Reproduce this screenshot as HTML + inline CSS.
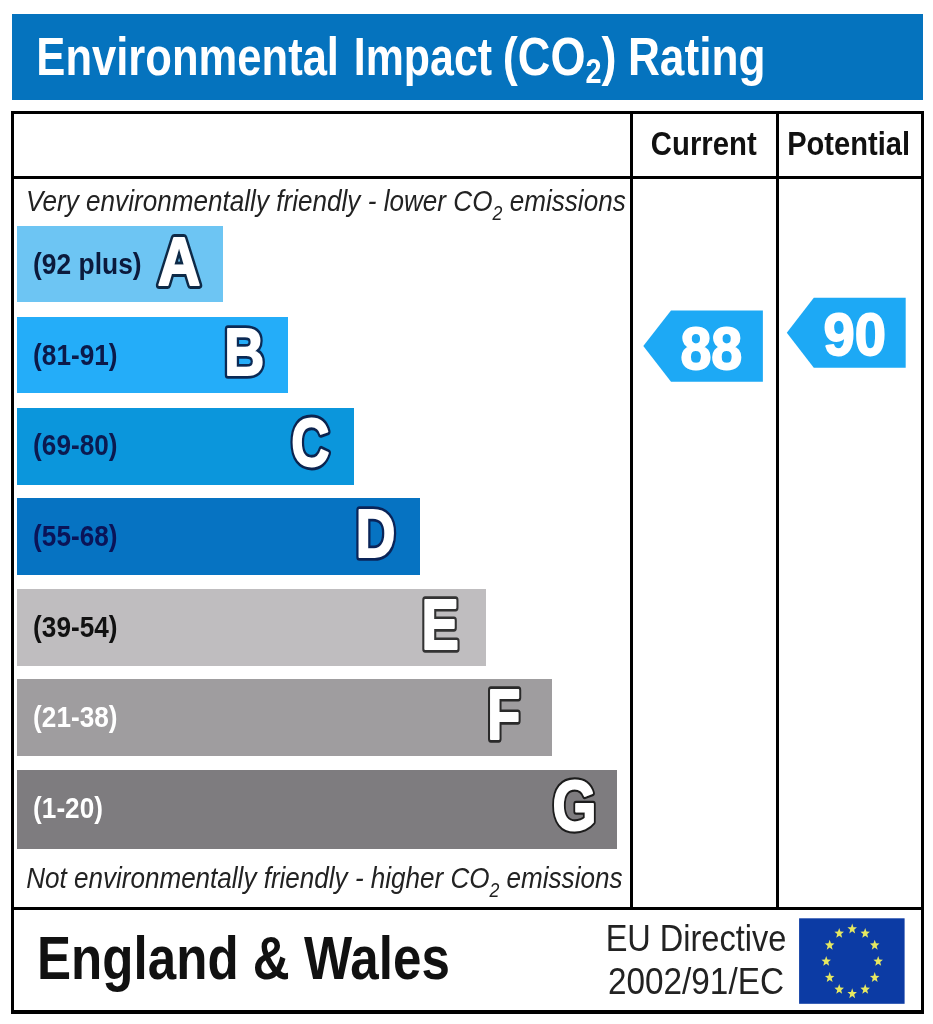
<!DOCTYPE html>
<html><head><meta charset="utf-8"><title>Environmental Impact (CO2) Rating</title>
<style>
html,body{margin:0;padding:0;background:#fff;}
body{width:933px;height:1024px;position:relative;overflow:hidden;font-family:'Liberation Sans', sans-serif;}
.t{margin:0;padding:0}
</style></head><body style="filter:blur(0.6px)">
<div style="position:absolute;left:11.90px;top:13.50px;width:911.10px;height:86.40px;background:#0573be"></div>
<div style="position:absolute;left:10.70px;top:110.80px;width:913.10px;height:3.70px;background:#000"></div>
<div style="position:absolute;left:10.70px;top:1009.60px;width:913.10px;height:4.00px;background:#000"></div>
<div style="position:absolute;left:10.70px;top:110.80px;width:3.00px;height:902.80px;background:#000"></div>
<div style="position:absolute;left:920.80px;top:110.80px;width:3.00px;height:902.80px;background:#000"></div>
<div style="position:absolute;left:629.90px;top:112.00px;width:3.10px;height:797.00px;background:#000"></div>
<div style="position:absolute;left:775.60px;top:112.00px;width:3.10px;height:797.00px;background:#000"></div>
<div style="position:absolute;left:11.00px;top:175.60px;width:912.00px;height:3.60px;background:#000"></div>
<div style="position:absolute;left:11.00px;top:906.80px;width:912.00px;height:3.70px;background:#000"></div>
<div style="position:absolute;left:16.80px;top:225.90px;width:206.30px;height:75.90px;background:#6dc5f3"></div>
<div style="position:absolute;left:16.80px;top:316.60px;width:271.60px;height:76.10px;background:#24adf9"></div>
<div style="position:absolute;left:16.80px;top:407.70px;width:336.80px;height:77.10px;background:#0b96dc"></div>
<div style="position:absolute;left:16.80px;top:498.20px;width:403.40px;height:77.00px;background:#0673c2"></div>
<div style="position:absolute;left:16.80px;top:589.30px;width:468.90px;height:76.70px;background:#bfbdbf"></div>
<div style="position:absolute;left:16.80px;top:679.30px;width:534.80px;height:77.20px;background:#9f9d9f"></div>
<div style="position:absolute;left:16.80px;top:769.80px;width:599.80px;height:78.80px;background:#7e7c7f"></div>
<svg style="position:absolute;left:0;top:0" width="933" height="1024" viewBox="0 0 933 1024"><polygon points="643.3,346 671,310.5 762.9,310.5 762.9,381.7 671,381.7" fill="#1da9f5"/><polygon points="786.8,332.7 813.8,297.8 905.7,297.8 905.7,367.8 813.8,367.8" fill="#1da9f5"/><rect x="799.1" y="918.3" width="105.5" height="85.5" fill="#0c3ba4"/><polygon points="852.20,923.55 853.43,927.18 856.96,927.35 854.20,929.76 855.14,933.50 852.20,931.36 849.26,933.50 850.20,929.76 847.44,927.35 850.97,927.18" fill="#e6e861"/><polygon points="865.20,927.88 866.43,931.52 869.96,931.68 867.20,934.10 868.14,937.83 865.20,935.69 862.26,937.83 863.20,934.10 860.44,931.68 863.97,931.52" fill="#e6e861"/><polygon points="874.72,939.73 875.95,943.36 879.47,943.53 876.71,945.94 877.66,949.67 874.72,947.53 871.78,949.67 872.72,945.94 869.96,943.53 873.48,943.36" fill="#e6e861"/><polygon points="878.20,955.90 879.43,959.53 882.96,959.70 880.20,962.11 881.14,965.85 878.20,963.71 875.26,965.85 876.20,962.11 873.44,959.70 876.97,959.53" fill="#e6e861"/><polygon points="874.72,972.07 875.95,975.71 879.47,975.88 876.71,978.29 877.66,982.02 874.72,979.88 871.78,982.02 872.72,978.29 869.96,975.88 873.48,975.71" fill="#e6e861"/><polygon points="865.20,983.92 866.43,987.55 869.96,987.72 867.20,990.13 868.14,993.87 865.20,991.73 862.26,993.87 863.20,990.13 860.44,987.72 863.97,987.55" fill="#e6e861"/><polygon points="852.20,988.25 853.43,991.88 856.96,992.05 854.20,994.46 855.14,998.20 852.20,996.06 849.26,998.20 850.20,994.46 847.44,992.05 850.97,991.88" fill="#e6e861"/><polygon points="839.20,983.92 840.43,987.55 843.96,987.72 841.20,990.13 842.14,993.87 839.20,991.73 836.26,993.87 837.20,990.13 834.44,987.72 837.97,987.55" fill="#e6e861"/><polygon points="829.68,972.08 830.92,975.71 834.44,975.88 831.68,978.29 832.62,982.02 829.68,979.88 826.74,982.02 827.69,978.29 824.93,975.88 828.45,975.71" fill="#e6e861"/><polygon points="826.20,955.90 827.43,959.53 830.96,959.70 828.20,962.11 829.14,965.85 826.20,963.71 823.26,965.85 824.20,962.11 821.44,959.70 824.97,959.53" fill="#e6e861"/><polygon points="829.68,939.73 830.92,943.36 834.44,943.53 831.68,945.94 832.62,949.67 829.68,947.53 826.74,949.67 827.69,945.94 824.93,943.53 828.45,943.36" fill="#e6e861"/><polygon points="839.20,927.88 840.43,931.52 843.96,931.68 841.20,934.10 842.14,937.83 839.20,935.69 836.26,937.83 837.20,934.10 834.44,931.68 837.97,931.52" fill="#e6e861"/><g transform="translate(157.67,285.03) scale(0.5910,0.6937)"><text font-family="Liberation Sans, sans-serif" font-weight="bold" font-size="100" x="0" y="0" stroke-linejoin="round" stroke-linecap="round" fill="#0e2a47" stroke="#0e2a47" stroke-width="11.4">A</text><text font-family="Liberation Sans, sans-serif" font-weight="bold" font-size="100" x="0" y="0" stroke-linejoin="round" stroke-linecap="round" fill="#fff" stroke="#fff" stroke-width="3">A</text></g><g transform="translate(224.35,375.25) scale(0.5542,0.6753)"><text font-family="Liberation Sans, sans-serif" font-weight="bold" font-size="100" x="0" y="0" stroke-linejoin="round" stroke-linecap="round" fill="#0b2a55" stroke="#0b2a55" stroke-width="11.4">B</text><text font-family="Liberation Sans, sans-serif" font-weight="bold" font-size="100" x="0" y="0" stroke-linejoin="round" stroke-linecap="round" fill="#fff" stroke="#fff" stroke-width="3">B</text></g><g transform="translate(291.26,466.11) scale(0.5286,0.6843)"><text font-family="Liberation Sans, sans-serif" font-weight="bold" font-size="100" x="0" y="0" stroke-linejoin="round" stroke-linecap="round" fill="#0b2450" stroke="#0b2450" stroke-width="11.4">C</text><text font-family="Liberation Sans, sans-serif" font-weight="bold" font-size="100" x="0" y="0" stroke-linejoin="round" stroke-linecap="round" fill="#fff" stroke="#fff" stroke-width="3">C</text></g><g transform="translate(355.65,556.53) scale(0.5493,0.6778)"><text font-family="Liberation Sans, sans-serif" font-weight="bold" font-size="100" x="0" y="0" stroke-linejoin="round" stroke-linecap="round" fill="#0a2458" stroke="#0a2458" stroke-width="11.4">D</text><text font-family="Liberation Sans, sans-serif" font-weight="bold" font-size="100" x="0" y="0" stroke-linejoin="round" stroke-linecap="round" fill="#fff" stroke="#fff" stroke-width="3">D</text></g><g transform="translate(421.44,649.19) scale(0.5597,0.7013)"><text font-family="Liberation Sans, sans-serif" font-weight="bold" font-size="100" x="0" y="0" stroke-linejoin="round" stroke-linecap="round" fill="#333" stroke="#333" stroke-width="10.6">E</text><text font-family="Liberation Sans, sans-serif" font-weight="bold" font-size="100" x="0" y="0" stroke-linejoin="round" stroke-linecap="round" fill="#fff" stroke="#fff" stroke-width="3">E</text></g><g transform="translate(487.16,739.42) scale(0.5419,0.6963)"><text font-family="Liberation Sans, sans-serif" font-weight="bold" font-size="100" x="0" y="0" stroke-linejoin="round" stroke-linecap="round" fill="#2a2a2a" stroke="#2a2a2a" stroke-width="10.6">F</text><text font-family="Liberation Sans, sans-serif" font-weight="bold" font-size="100" x="0" y="0" stroke-linejoin="round" stroke-linecap="round" fill="#fff" stroke="#fff" stroke-width="3">F</text></g><g transform="translate(552.57,830.31) scale(0.5662,0.6988)"><text font-family="Liberation Sans, sans-serif" font-weight="bold" font-size="100" x="0" y="0" stroke-linejoin="round" stroke-linecap="round" fill="#1c1c1c" stroke="#1c1c1c" stroke-width="9.4">G</text><text font-family="Liberation Sans, sans-serif" font-weight="bold" font-size="100" x="0" y="0" stroke-linejoin="round" stroke-linecap="round" fill="#fff" stroke="#fff" stroke-width="3">G</text></g><g transform="translate(680.39,368.50) scale(0.5556,0.6014)"><text font-family="Liberation Sans, sans-serif" font-weight="bold" font-size="100" x="0" y="0" stroke-linejoin="round" stroke-linecap="round" fill="#fff" stroke="#fff" stroke-width="3">88</text></g><g transform="translate(823.58,354.60) scale(0.5623,0.6000)"><text font-family="Liberation Sans, sans-serif" font-weight="bold" font-size="100" x="0" y="0" stroke-linejoin="round" stroke-linecap="round" fill="#fff" stroke="#fff" stroke-width="3">90</text></g></svg>
<div class="t" style="position:absolute;left:0;top:0;transform-origin:0 0;transform:translate(36.35px,28.58px) scale(0.4357,0.5436);font:normal bold 100px/1 'Liberation Sans', sans-serif;white-space:pre;color:#fff;">Environmental</div>
<div class="t" style="position:absolute;left:0;top:0;transform-origin:0 0;transform:translate(353.80px,28.58px) scale(0.4290,0.5436);font:normal bold 100px/1 'Liberation Sans', sans-serif;white-space:pre;color:#fff;">Impact</div>
<div class="t" style="position:absolute;left:0;top:0;transform-origin:0 0;transform:translate(502.85px,28.58px) scale(0.4508,0.5436);font:normal bold 100px/1 'Liberation Sans', sans-serif;white-space:pre;color:#fff;">(CO<span style="font-size:.64em;position:relative;top:.24em">2</span>)</div>
<div class="t" style="position:absolute;left:0;top:0;transform-origin:0 0;transform:translate(627.90px,28.58px) scale(0.4424,0.5436);font:normal bold 100px/1 'Liberation Sans', sans-serif;white-space:pre;color:#fff;">Rating</div>
<div class="t" style="position:absolute;left:0;top:0;transform-origin:0 0;transform:translate(650.83px,126.39px) scale(0.2933,0.3339);font:normal bold 100px/1 'Liberation Sans', sans-serif;white-space:pre;color:#111;">Current</div>
<div class="t" style="position:absolute;left:0;top:0;transform-origin:0 0;transform:translate(787.16px,126.39px) scale(0.2912,0.3339);font:normal bold 100px/1 'Liberation Sans', sans-serif;white-space:pre;color:#111;">Potential</div>
<div class="t" style="position:absolute;left:0;top:0;transform-origin:0 0;transform:translate(26.05px,186.15px) scale(0.2612,0.2936);font:italic normal 100px/1 'Liberation Sans', sans-serif;white-space:pre;color:#222;">Very environmentally friendly - lower CO<span style="font-size:.68em;position:relative;top:.44em">2</span> emissions</div>
<div class="t" style="position:absolute;left:0;top:0;transform-origin:0 0;transform:translate(26.22px,862.95px) scale(0.2605,0.2936);font:italic normal 100px/1 'Liberation Sans', sans-serif;white-space:pre;color:#222;">Not environmentally friendly - higher CO<span style="font-size:.68em;position:relative;top:.44em">2</span> emissions</div>
<div class="t" style="position:absolute;left:0;top:0;transform-origin:0 0;transform:translate(37.02px,927.65px) scale(0.5112,0.6090);font:normal bold 100px/1 'Liberation Sans', sans-serif;white-space:pre;color:#111;">England &amp; Wales</div>
<div class="t" style="position:absolute;left:0;top:0;transform-origin:0 0;transform:translate(605.70px,918.66px) scale(0.3249,0.3750);font:normal normal 100px/1 'Liberation Sans', sans-serif;white-space:pre;color:#222;">EU Directive</div>
<div class="t" style="position:absolute;left:0;top:0;transform-origin:0 0;transform:translate(607.93px,962.16px) scale(0.3333,0.3750);font:normal normal 100px/1 'Liberation Sans', sans-serif;white-space:pre;color:#222;">2002/91/EC</div>
<div class="t" style="position:absolute;left:0;top:0;transform-origin:0 0;transform:translate(33.08px,248.43px) scale(0.2640,0.2994);font:normal bold 100px/1 'Liberation Sans', sans-serif;white-space:pre;color:#0b1a3c;">(92 plus)</div>
<div class="t" style="position:absolute;left:0;top:0;transform-origin:0 0;transform:translate(33.09px,339.15px) scale(0.2620,0.2994);font:normal bold 100px/1 'Liberation Sans', sans-serif;white-space:pre;color:#0b1a4a;">(81-91)</div>
<div class="t" style="position:absolute;left:0;top:0;transform-origin:0 0;transform:translate(33.09px,429.87px) scale(0.2620,0.2994);font:normal bold 100px/1 'Liberation Sans', sans-serif;white-space:pre;color:#0b1a50;">(69-80)</div>
<div class="t" style="position:absolute;left:0;top:0;transform-origin:0 0;transform:translate(33.09px,520.59px) scale(0.2620,0.2994);font:normal bold 100px/1 'Liberation Sans', sans-serif;white-space:pre;color:#0a1458;">(55-68)</div>
<div class="t" style="position:absolute;left:0;top:0;transform-origin:0 0;transform:translate(33.09px,611.31px) scale(0.2620,0.2994);font:normal bold 100px/1 'Liberation Sans', sans-serif;white-space:pre;color:#111;">(39-54)</div>
<div class="t" style="position:absolute;left:0;top:0;transform-origin:0 0;transform:translate(33.09px,702.03px) scale(0.2620,0.2994);font:normal bold 100px/1 'Liberation Sans', sans-serif;white-space:pre;color:#fff;">(21-38)</div>
<div class="t" style="position:absolute;left:0;top:0;transform-origin:0 0;transform:translate(33.09px,792.75px) scale(0.2620,0.2994);font:normal bold 100px/1 'Liberation Sans', sans-serif;white-space:pre;color:#fff;">(1-20)</div>
</body></html>
